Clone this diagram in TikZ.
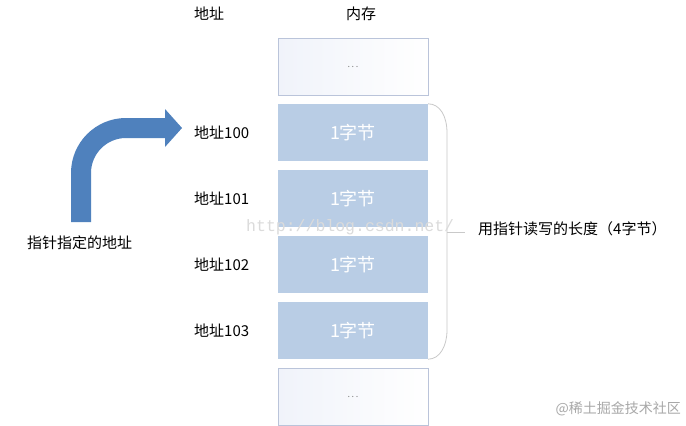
\documentclass[tikz,border=0pt]{standalone}
\usepackage{fontspec}
\setmainfont{Noto Sans CJK SC}
\newfontfamily\markfont{Liberation Mono}
\usetikzlibrary{positioning}
\definecolor{mBlue}{HTML}{4F81BD}
\definecolor{mCell}{HTML}{B9CDE5}
\definecolor{mEdge}{HTML}{BAC4DA}
\definecolor{mShade}{HTML}{F0F3FA}
\definecolor{mGray}{HTML}{C9C9C9}
\definecolor{mText}{HTML}{000000}
\definecolor{mMark}{HTML}{A8A8A8}

\begin{document}
\begin{tikzpicture}[x=1pt,y=-1pt,
  lbl/.style={font=\fontsize{15}{15}\selectfont, text=mText, inner sep=0pt},
  cell/.style={minimum width=150pt, minimum height=57pt, inner sep=0pt,
    fill=mCell, text=white, font=\fontsize{18}{18}\selectfont},
  blank/.style={cell, draw=mEdge, line width=0.8pt, left color=mShade, right color=white,
    text=gray, font=\fontsize{9}{9}\selectfont}]
  \useasboundingbox[fill=white] (0,0) rectangle (686,426);

  % headers
  \node[lbl, anchor=west] (hAddr) at (194,14) {地址};
  \node[lbl] (hMem) at (361,14) {内存};

  % memory cells
  \node[blank] (c0) at (353,66.5) {.\,.\,.};
  \foreach \i/\y in {1/132.5, 2/198.5, 3/264.5, 4/330.5}{
    \node[cell] (c\i) at (353,\y) {1字节};
    \node[lbl, anchor=west] (a\i) at (194,\y) {地址10\the\numexpr\i-1\relax};
  }
  \node[blank] (c5) at (353,396.5) {.\,.\,.};

  % bent arrow
  \fill[mBlue] (71,222) -- (71,173) .. controls (71,142.6) and (95.6,118) .. (126,118)
    -- (165,118) -- (165,109) -- (182,128) -- (165,147) -- (165,138) -- (126,138)
    .. controls (106.7,138) and (91,153.7) .. (91,173) -- (91,222) -- cycle;
  \node[lbl, anchor=west] (ptr) at (27,243) {指针指定的地址};

  % brace over the four bytes
  \coordinate (tip) at (447,232);
  \draw[mGray, line width=0.8pt] (c1.north east) .. controls (440,104) and (447,116) .. (447,133)
    -- (tip) -- (447,330) .. controls (447,346) and (440,359) .. (c4.south east);
  \draw[mGray, line width=0.8pt] (tip) -- ++(18,0);
  \node[lbl, anchor=west] (len) at (478,229) {用指针读写的长度（4字节）};

  % watermarks
  \node[font=\markfont\fontsize{16.5}{16.5}\selectfont, text=black!14, anchor=west, inner sep=0pt]
    (wm) at (246,227) {http://blog.csdn.net/};
  \node[font=\fontsize{14}{14}\selectfont, text=mMark, anchor=east, inner sep=0pt]
    (juejin) at (681,409) {@稀土掘金技术社区};
\end{tikzpicture}
\end{document}
